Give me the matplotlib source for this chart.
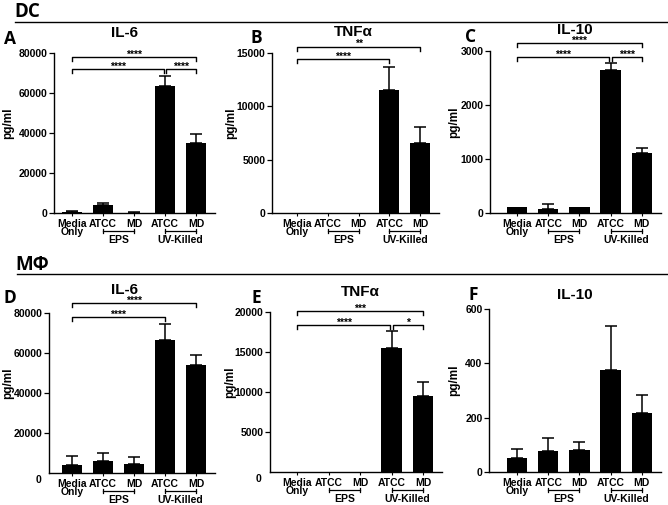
import matplotlib
matplotlib.use("Agg")
import matplotlib.pyplot as plt
from matplotlib.transforms import blended_transform_factory

W, H = 668, 505
categories = ["Media\nOnly", "ATCC", "MD", "ATCC", "MD"]
groups = [("EPS", 1, 2), ("UV-Killed", 3, 4)]

dc_il6 = [600, 4000, 200, 63500, 34800]
dc_il6_err = [200, 1000, 100, 4800, 4500]
dc_tnf = [0, 0, 0, 11550, 6550]
dc_tnf_err = [0, 0, 0, 2150, 1500]
dc_il10 = [115, 80, 115, 2645, 1110]
dc_il10_err = [0, 85, 0, 125, 100]
mf_il6 = [4000, 6000, 4400, 66500, 54100]
mf_il6_err = [4300, 4000, 3700, 7800, 4800]
mf_tnf = [0, 0, 0, 15450, 9550]
mf_tnf_err = [0, 0, 0, 2130, 1750]
mf_il10 = [52, 76, 80, 375, 218]
mf_il10_err = [34, 49, 31, 162, 67]

yticks_il6 = [0, 20000, 40000, 60000, 80000]
yticks_tnf_dc = [0, 5000, 10000, 15000]
yticks_il10_dc = [0, 1000, 2000, 3000]
yticks_tnf_mf = [0, 5000, 10000, 15000, 20000]
yticks_il10_mf = [0, 200, 400, 600]

sig_A = [(0, 4, 78000, "****"), (0, 2.96, 72000, "****"), (3.04, 4, 72000, "****")]
sig_B = [(0, 4, 15600, "**"), (0, 3, 14400, "****")]
sig_C = [(0, 4, 3150, "****"), (0, 2.96, 2890, "****"), (3.04, 4, 2890, "****")]
sig_D = [(0, 4, 85000, "****"), (0, 3, 78000, "****")]
sig_E = [(0, 4, 20100, "***"), (0, 2.96, 18400, "****"), (3.04, 4, 18400, "*")]
sig_F = []

SANS = "Liberation Sans"
HEAD = "Open Sans"

fig = plt.figure(figsize=(W / 100, H / 100), dpi=100)
fig.patch.set_facecolor("white")


def fx(x):
    return x / W


def fy(y):
    return 1 - y / H


panels = [
    ("A", "IL-6", dc_il6, dc_il6_err, yticks_il6, sig_A, 54, 72, 31, 53, 213, False, (125, 33), (10, 39), 8),
    ("B", "TNFα", dc_tnf, dc_tnf_err, yticks_tnf_dc, sig_B, 272, 297, 30.8, 53, 213, False, (353, 32), (256, 38), 231),
    ("C", "IL-10", dc_il10, dc_il10_err, yticks_il10_dc, sig_C, 490, 517, 31.2, 51, 213, False, (575, 30), (471, 37), 454),
    ("D", "IL-6", mf_il6, mf_il6_err, yticks_il6, sig_D, 49, 72, 31, 313, 473, True, (125, 290), (10, 298), 8),
    ("E", "TNFα", mf_tnf, mf_tnf_err, yticks_tnf_mf, sig_E, 270, 297, 31.5, 312, 472, True, (360, 292), (256, 298), 230),
    ("F", "IL-10", mf_il10, mf_il10_err, yticks_il10_mf, sig_F, 489, 517, 31.2, 309, 472, False, (575, 295), (473, 295), 454),
]

for (letter, title, vals, errs, yticks, sigs, spx, c0, sp, top, bot, zero_off,
     txy, lxy, ylx) in panels:
    left_off = (c0 - spx) / sp
    right = 4.6
    width_px = (right + left_off) * sp
    ax = fig.add_axes([fx(spx), fy(bot), width_px / W, (bot - top) / H])
    x = list(range(len(categories)))
    ax.bar(x, vals, width=0.65, color="black", linewidth=0, zorder=2)
    ex = [xi for xi, e in zip(x, errs) if e > 0]
    ev = [v for v, e in zip(vals, errs) if e > 0]
    ee = [e for e in errs if e > 0]
    if ex:
        ax.errorbar(ex, ev, yerr=[[0] * len(ee), ee], fmt="none", ecolor="black",
                    elinewidth=1.1, capsize=4, capthick=1.1, zorder=3)
    ymax = yticks[-1]
    ax.set_xlim(-left_off, right)
    ax.set_ylim(0, ymax)
    for s in ["top", "right"]:
        ax.spines[s].set_visible(False)
    for s in ["left", "bottom"]:
        ax.spines[s].set_linewidth(1.0)
    ax.set_xticks(x)
    ax.set_xticklabels(categories, fontsize=7.5, fontweight="bold", family=SANS,
                       linespacing=0.8)
    ax.tick_params(axis="x", length=2.5, width=0.8, pad=1.5)
    if zero_off:
        ax.set_yticks(yticks[1:])
        ax.set_yticklabels([str(v) for v in yticks[1:]], fontsize=7.5, fontweight="bold",
                           family=SANS)
        fig.text(fx(spx - 11), fy(bot + 7), "0", fontsize=7.5, fontweight="bold",
                 family=SANS, ha="center", va="center")
    else:
        ax.set_yticks(yticks)
        ax.set_yticklabels([str(v) for v in yticks], fontsize=7.5, fontweight="bold",
                           family=SANS)
    ax.tick_params(axis="y", length=3.5, width=0.9, pad=1.2)

    tr = blended_transform_factory(ax.transData, ax.transAxes)
    h = bot - top
    for name, a, b in groups:
        yl = -18 / h
        ax.plot([a, b], [yl, yl], color="black", lw=0.9, transform=tr, clip_on=False)
        for e in (a, b):
            ax.plot([e, e], [yl - 2 / h, yl + 2 / h], color="black", lw=0.9,
                    transform=tr, clip_on=False)
        ax.text((a + b) / 2, -27 / h, name, transform=tr, ha="center", va="center",
                fontsize=7.5, fontweight="bold", family=SANS)

    drop = 4 / h * ymax
    for a, b, yv, lab in sigs:
        ax.plot([a, a, b, b], [yv - drop, yv, yv, yv - drop], color="black", lw=1.0,
                clip_on=False, zorder=4)
        ax.annotate(lab, xy=((a + b) / 2, yv), xytext=(0, -0.5), textcoords="offset points",
                    ha="center", va="baseline", fontsize=7.5, fontweight="bold",
                    family=SANS, annotation_clip=False)

    fig.text(fx(txy[0]), fy(txy[1]), title, fontsize=11, fontweight="bold",
             family=SANS, ha="center", va="center")
    fig.text(fx(lxy[0]), fy(lxy[1]), letter, fontsize=12.5, fontweight="bold",
             family=HEAD, ha="center", va="center")
    fig.text(fx(ylx), fy((top + bot) / 2 - 10), "pg/ml", fontsize=8.5, fontweight="bold",
             family=SANS, rotation=90, ha="center", va="center")

fig.text(fx(14), fy(12), "DC", fontsize=13.5, fontweight="bold", family=HEAD,
         ha="left", va="center")
fig.add_artist(plt.Line2D([fx(15), 1.0], [fy(22), fy(22)], color="black", lw=1.0))
fig.text(fx(15), fy(265), "MΦ", fontsize=13.5, fontweight="bold", family=HEAD,
         ha="left", va="center")
fig.add_artist(plt.Line2D([fx(17), 1.0], [fy(274), fy(274)], color="black", lw=1.0))

fig.savefig("out.png", dpi=100, facecolor="white")
